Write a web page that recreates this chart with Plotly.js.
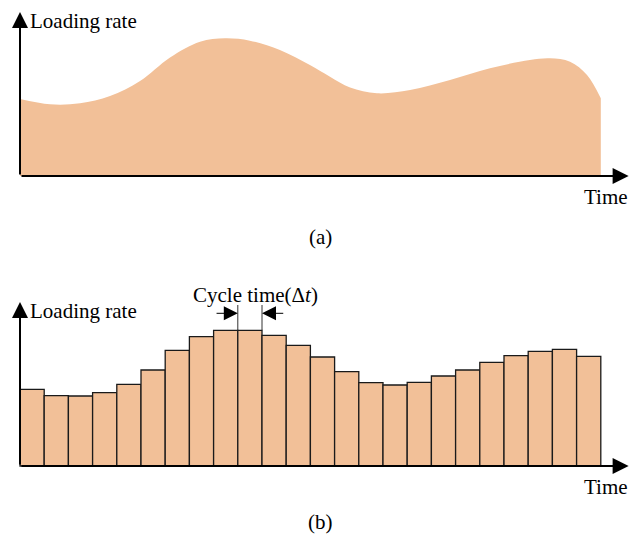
<!DOCTYPE html>
<html><head><meta charset="utf-8">
<script src="https://cdn.plot.ly/plotly-3.0.1.min.js"></script>
<style>html,body{margin:0;padding:0;background:#fff}#chart{width:630px;height:547px}</style>
</head><body><div id="chart"></div>
<script>
// (a) continuous loading rate curve
const curveTime = [0, 1.24, 2.48, 3.72, 4.96, 6.2, 7.44, 8.47, 9.5, 10.74, 11.98, 12.81, 13.64, 14.75, 16.12, 17.77, 19.42, 21.07, 21.9, 22.73, 23.43, 24];
const curveRate = [77, 71.7, 72.7, 80, 95, 118.5, 134.3, 137.7, 135.3, 126, 111, 99.3, 88.5, 82.7, 86, 96, 107.7, 116, 117.7, 114.3, 101, 77.7];
// (b) discretised loading rate per cycle
const cycleStart = [0,1,2,3,4,5,6,7,8,9,10,11,12,13,14,15,16,17,18,19,20,21,22,23];
const cycleRate = [76.7, 70.3, 70, 73.3, 81.7, 96, 115.7, 129.3, 135.7, 135.7, 130.7, 120.7, 109, 94.3, 83.3, 81, 83.7, 90, 96, 103.7, 110.3, 114.7, 116.7, 109.7];
const yLabel = 'Loading rate';
const xLabel = 'Time';
const panelLabels = ['(a)', '(b)'];
const cycleText = 'Cycle time(Δ<i>t</i>)';
const highlighted = 9;

const fillCol = 'rgb(242,192,152)';
const font = {family: 'Liberation Serif, Times New Roman, serif', size: 21, color: '#000'};

const traces = [
  {x: curveTime, y: curveRate, type: 'scatter', mode: 'lines', line: {shape: 'spline', smoothing: 1, width: 0, color: fillCol},
   fill: 'tozeroy', fillcolor: fillCol, xaxis: 'x2', yaxis: 'y2', hoverinfo: 'skip'},
  {x: cycleStart, y: cycleRate, type: 'bar', width: 1, offset: 0, marker: {color: fillCol, line: {color: '#1a1a1a', width: 1.3}},
   xaxis: 'x', yaxis: 'y', hoverinfo: 'skip'}
];

const xr = [-20/24.2, 610/24.2];
const axBase = {visible: false, fixedrange: true};

function axisArrows(xa, ya) {
  return [
    {xref: xa, yref: ya, axref: xa, ayref: ya, x: 0, y: 164, ax: 0, ay: 0, text: '', showarrow: true,
     arrowhead: 2, arrowsize: 1.6, arrowwidth: 2, arrowcolor: '#000', standoff: 0, startstandoff: 0},
    {xref: xa, yref: ya, axref: xa, ayref: ya, x: 25.15, y: 0, ax: 0, ay: 0, text: '', showarrow: true,
     arrowhead: 2, arrowsize: 1.6, arrowwidth: 2, arrowcolor: '#000', standoff: 0, startstandoff: 0},
    {xref: xa, yref: ya, x: 0.33, y: 155, text: yLabel, showarrow: false, xanchor: 'left', yanchor: 'middle', font: font},
    {xref: xa, yref: ya, x: 24.2, y: -20.5, text: xLabel, showarrow: false, xanchor: 'center', yanchor: 'middle', font: font}
  ];
}

const annotations = [
  ...axisArrows('x2', 'y2'),
  ...axisArrows('x', 'y'),
  {xref: 'x2', yref: 'y2', x: 12.4, y: -61, text: panelLabels[0], showarrow: false, font: font, yanchor: 'middle'},
  {xref: 'x', yref: 'y', x: 12.4, y: -56, text: panelLabels[1], showarrow: false, font: font, yanchor: 'middle'},
  {xref: 'x', yref: 'y', x: highlighted + 0.75, y: 171, text: cycleText, showarrow: false, font: font, yanchor: 'middle'},
  {xref: 'x', yref: 'y', axref: 'x', ayref: 'y', x: highlighted, y: 152.7, ax: highlighted - 0.94, ay: 152.7, text: '', showarrow: true,
   arrowhead: 2, arrowsize: 2.8, arrowwidth: 1, arrowcolor: '#000', standoff: 0},
  {xref: 'x', yref: 'y', axref: 'x', ayref: 'y', x: highlighted + 1, y: 152.7, ax: highlighted + 1.94, ay: 152.7, text: '', showarrow: true,
   arrowhead: 2, arrowsize: 2.8, arrowwidth: 1, arrowcolor: '#000', standoff: 0}
];

const shapes = [highlighted, highlighted + 1].map(v => ({
  type: 'line', xref: 'x', yref: 'y', x0: v, x1: v, y0: cycleRate[highlighted], y1: 161,
  line: {color: '#333', width: 1}
}));

const layout = {
  width: 630, height: 547, margin: {l: 0, r: 0, t: 0, b: 0},
  paper_bgcolor: '#fff', plot_bgcolor: 'rgba(0,0,0,0)', showlegend: false, bargap: 0,
  xaxis: Object.assign({range: xr, domain: [0, 1], anchor: 'y'}, axBase),
  yaxis: Object.assign({range: [-81, 186], domain: [0, 1 - 280/547], anchor: 'x'}, axBase),
  xaxis2: Object.assign({range: xr, domain: [0, 1], anchor: 'y2'}, axBase),
  yaxis2: Object.assign({range: [-84, 176], domain: [1 - 260/547, 1], anchor: 'x2'}, axBase),
  annotations: annotations, shapes: shapes, font: font
};

Plotly.newPlot('chart', traces, layout, {displayModeBar: false, staticPlot: true});
</script></body></html>
